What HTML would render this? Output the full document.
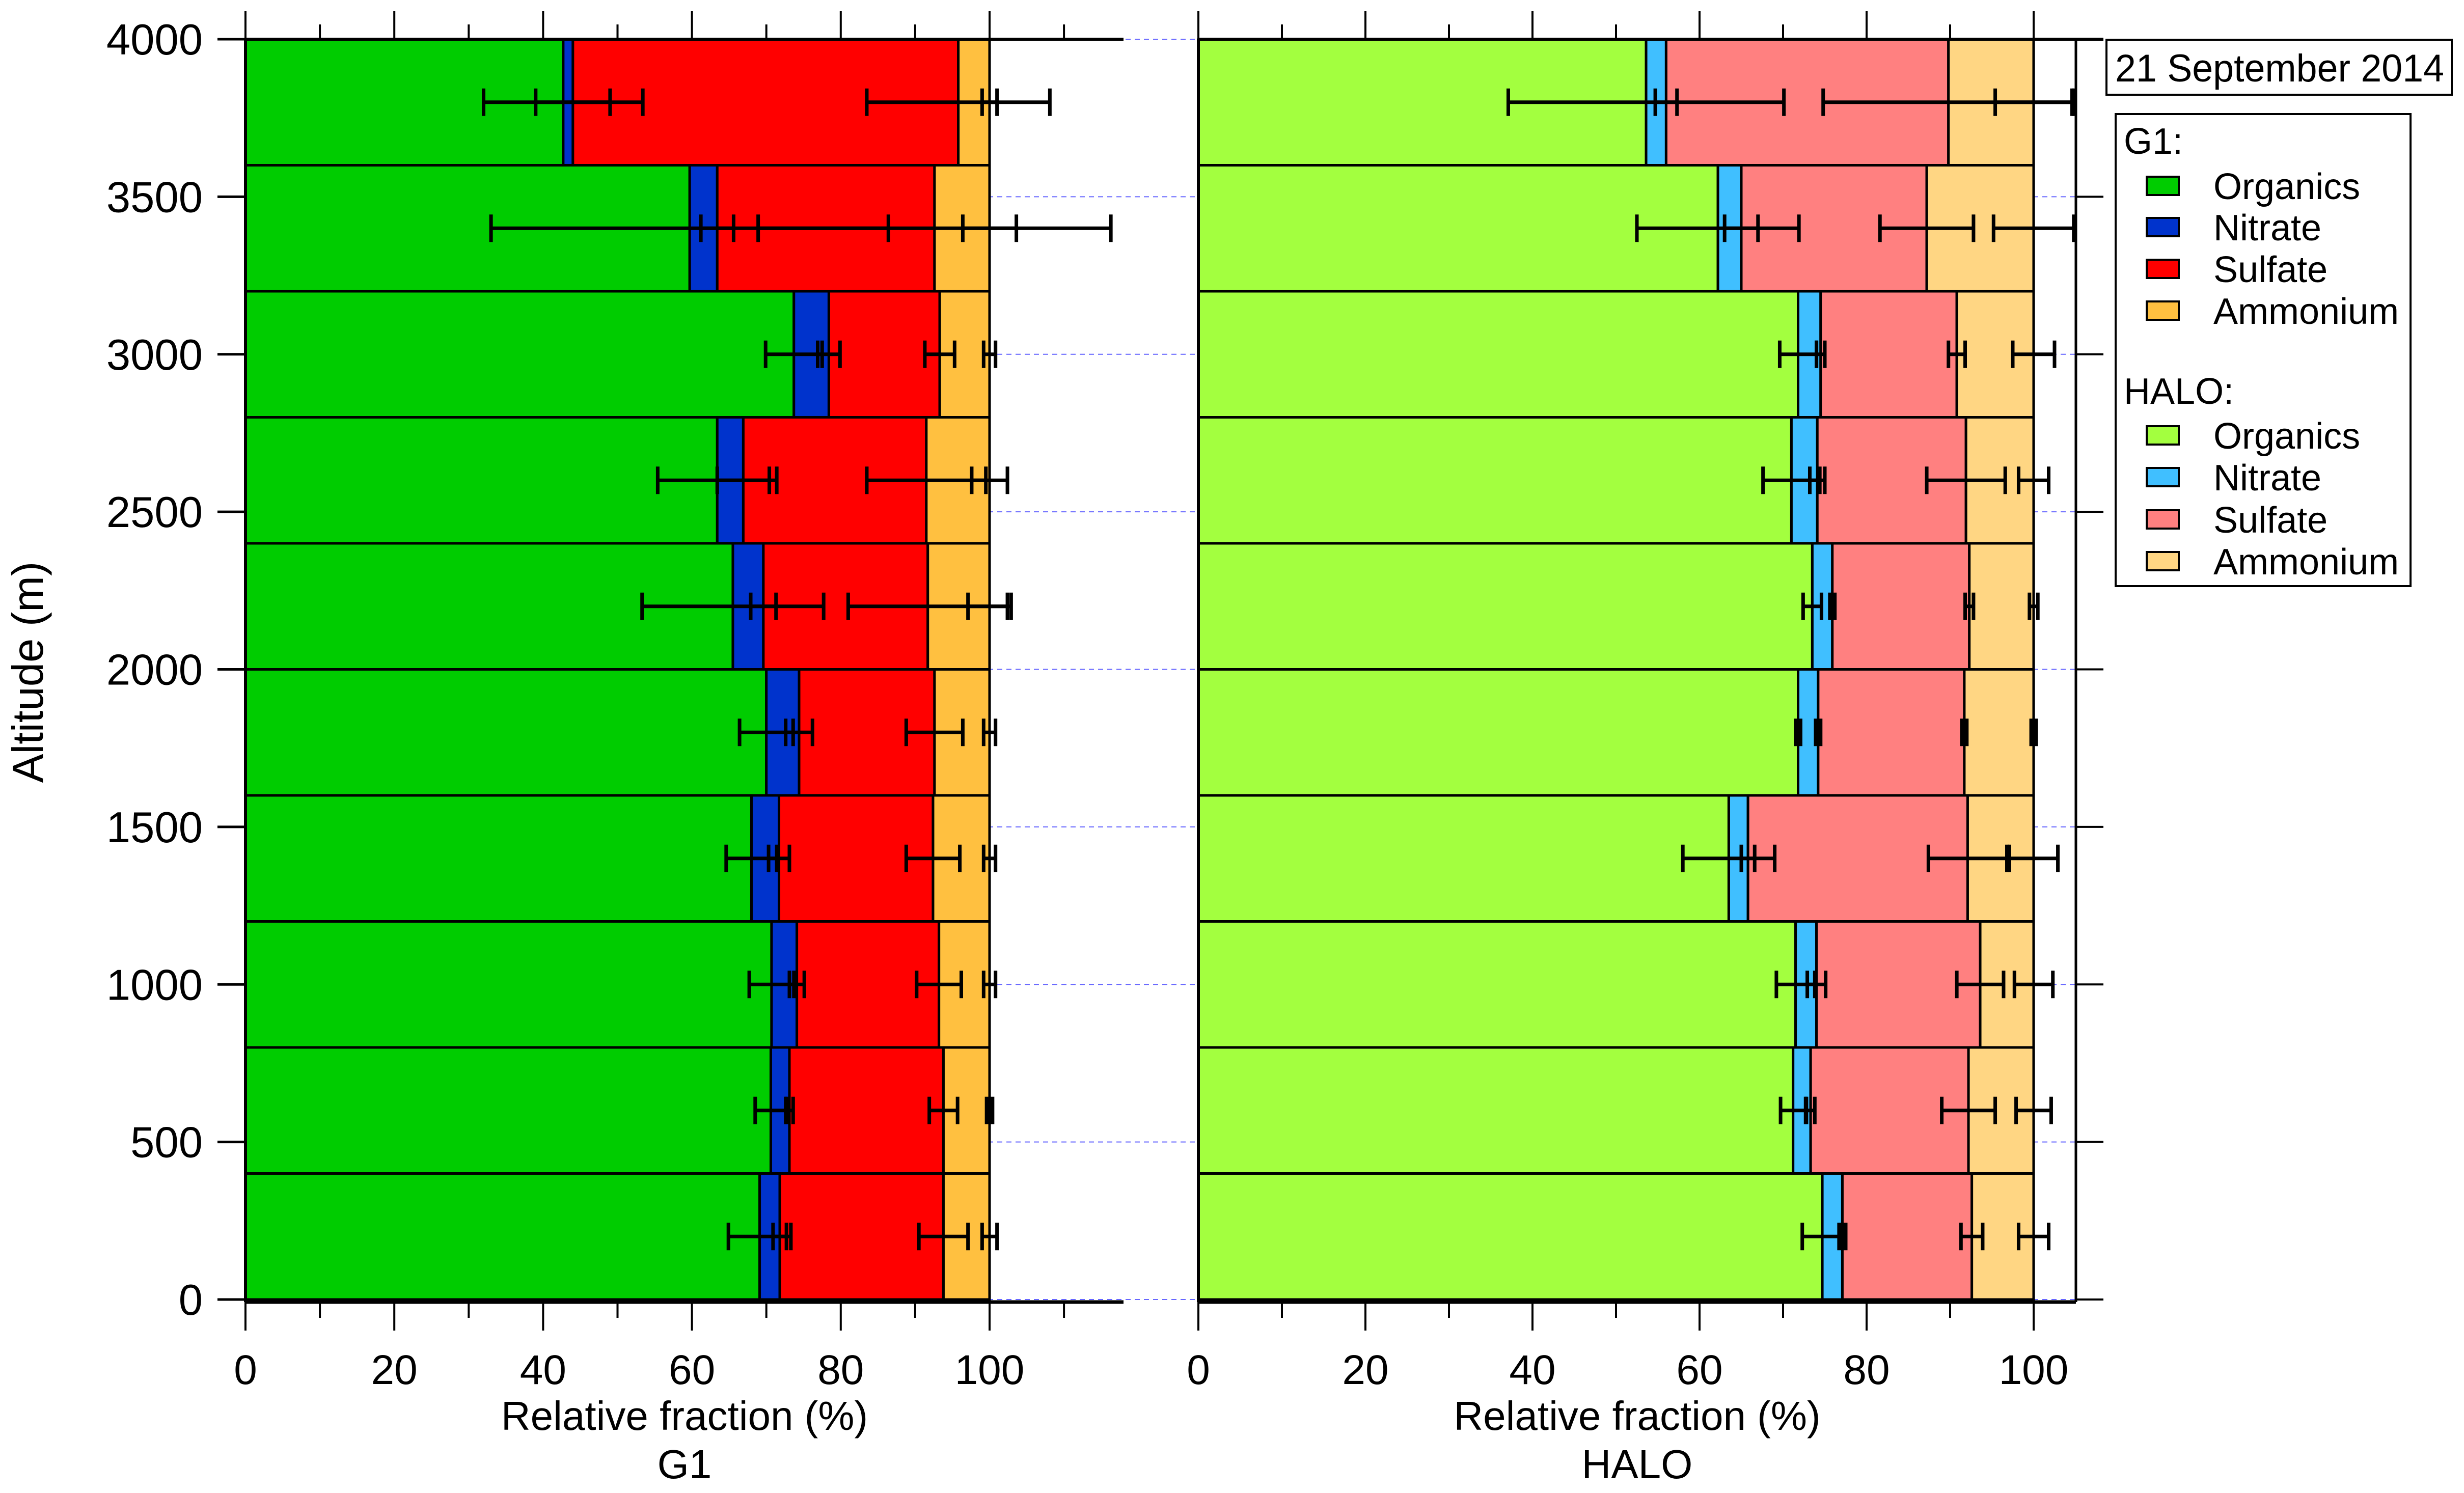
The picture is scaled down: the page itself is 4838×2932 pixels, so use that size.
<!DOCTYPE html>
<html><head><meta charset="utf-8"><style>
html,body{margin:0;padding:0;background:#fff;}
svg{display:block;}
text{font-family:"Liberation Sans",sans-serif;fill:#000;}
</style></head><body>
<svg id="chart" xmlns="http://www.w3.org/2000/svg" width="4838" height="2932" viewBox="0 0 4838 2932">
<rect x="0" y="0" width="4838" height="2932" fill="#fff"/>
<g id="grid"></g>
<g id="g1"></g>
<g id="halo"></g>
<g id="axes"></g>
<text x="0" y="0" font-size="85" text-anchor="middle" transform="translate(84,1320) rotate(-90)">Altitude (m)</text>
<g>
<rect x="4136" y="78" width="678" height="108" fill="#fff" stroke="#000" stroke-width="4"/>
<text x="4153" y="160" font-size="76" textLength="646" lengthAdjust="spacingAndGlyphs">21 September 2014</text>
</g>
<g id="legend">
<rect x="4154" y="224" width="579" height="927" fill="#fff" stroke="#000" stroke-width="4"/>
<text x="4170" y="302" font-size="72">G1:</text>
<text x="4170" y="793" font-size="72">HALO:</text>
</g>
</svg>
<script>
// altitude bins (bottom edges, m)
const altBins = [0,400,800,1200,1600,2000,2400,2800,3200,3600];
const species = ["Organics","Nitrate","Sulfate","Ammonium"];
// G1 component fractions (%), from bottom bin to top
const g1Org = [69.1,70.6,70.7,68.0,70.0,65.5,63.4,73.7,59.7,42.7];
const g1Nit = [2.7,2.5,3.4,3.7,4.4,4.1,3.5,4.7,3.7,1.3];
const g1Sul = [22.0,20.7,19.1,20.7,18.2,22.1,24.6,14.9,29.2,51.8];
const g1Amm = [6.2,6.2,6.8,7.6,7.4,8.3,8.5,6.7,7.4,4.2];
// G1 error half-widths (%)
const g1OrgErr = [4.2,2.1,3.0,3.4,3.6,12.2,8.0,3.8,26.7,10.7];
const g1NitErr = [0.9,0.5,1.0,1.4,1.8,1.7,3.5,1.5,2.2,5.0];
const g1SulErr = [3.3,1.9,3.0,3.6,3.8,10.7,8.0,2.0,23.7,12.3];
const g1AmmErr = [1.0,0.4,0.8,0.8,0.8,2.9,2.4,0.8,3.6,1.0];
// HALO component fractions (%)
const haOrg = [74.7,71.2,71.5,63.5,71.8,73.5,71.0,71.8,62.2,53.6];
const haNit = [2.4,2.1,2.5,2.3,2.4,2.4,3.1,2.7,2.8,2.4];
const haSul = [15.5,18.9,19.6,26.3,17.5,16.4,17.8,16.3,22.2,33.8];
const haAmm = [7.4,7.8,6.4,7.9,8.3,7.7,8.1,9.2,12.8,10.2];
// HALO error half-widths (%)
const haOrgErr = [2.4,1.5,2.3,5.5,0.3,1.1,3.4,2.2,9.7,16.5];
const haNitErr = [0.4,0.5,1.1,0.8,0.3,0.3,0.9,0.5,2.0,1.3];
const haSulErr = [1.3,3.2,2.8,4.7,0.3,0.5,4.7,1.0,5.6,15.0];
const haAmmErr = [1.8,2.1,2.3,2.9,0.3,0.5,1.8,2.5,4.8,4.6];
const binH = 400;
const xTicksMajor = [0,20,40,60,80,100];
const yTicks = [0,500,1000,1500,2000,2500,3000,3500,4000];

const NS="http://www.w3.org/2000/svg";
function el(tag, attrs, parent){const e=document.createElementNS(NS,tag);for(const k in attrs)e.setAttribute(k,attrs[k]);parent.appendChild(e);return e;}
const yScale = v => 2552 - v*(2552-77)/4000;
const panels = [
 {id:"g1", x0:482, x100:1943, xEnd:118, name:"g1", title:"G1",
  cols:["#00CC00","#0033CC","#FF0000","#FFC040"], vals:[g1Org,g1Nit,g1Sul,g1Amm], errs:[g1OrgErr,g1NitErr,g1SulErr,g1AmmErr]},
 {id:"halo", x0:2353, x100:3993, xEnd:105.06, name:"halo", title:"HALO",
  cols:["#A3FF3F","#40BFFF","#FF8080","#FFD683"], vals:[haOrg,haNit,haSul,haAmm], errs:[haOrgErr,haNitErr,haSulErr,haAmmErr]}
];
const grid=document.getElementById("grid");
yTicks.forEach(t=>{
  const l=el("line",{x1:482,x2:4076,y1:yScale(t),y2:yScale(t),stroke:"#6666ff","stroke-width":2,"stroke-dasharray":"10,8"},grid);
  
  
});
const axes=document.getElementById("axes");
panels.forEach(p=>{
  const xs = v => p.x0 + v*(p.x100-p.x0)/100;
  const g=document.getElementById(p.id);
  altBins.forEach((b,i)=>{
    let cum=0;
    const yT=yScale(b+binH), yB=yScale(b);
    const ends=[];
    p.vals.forEach((arr,k)=>{
      const r=el("rect",{x:xs(cum),y:yT,width:xs(cum+arr[i])-xs(cum),height:yB-yT,fill:p.cols[k],stroke:"#000","stroke-width":5},g);
      
      
      cum+=arr[i]; ends.push(cum);
    });
    const yc=(yT+yB)/2;
    p.errs.forEach((arr,k)=>{
      const c=(k===3)?100:ends[k];
      const eg=el("g",{stroke:"#000","stroke-width":7},g);
      
      
      el("line",{x1:xs(c-arr[i]),x2:xs(c+arr[i]),y1:yc,y2:yc},eg);
      el("line",{x1:xs(c-arr[i]),x2:xs(c-arr[i]),y1:yc-27,y2:yc+27},eg);
      el("line",{x1:xs(c+arr[i]),x2:xs(c+arr[i]),y1:yc-27,y2:yc+27},eg);
    });
  });
  const xe=xs(p.xEnd);
  const topExt = p.id==="halo"?4130:xe;
  el("line",{x1:p.x0,x2:topExt,y1:77,y2:77,stroke:"#000","stroke-width":6},axes);
  el("line",{x1:p.x0,x2:xe,y1:2557,y2:2557,stroke:"#000","stroke-width":7},axes);
  el("line",{x1:p.x0,x2:p.x0,y1:77,y2:2557,stroke:"#000","stroke-width":6},axes);
  if(p.id==="halo"){
    el("line",{x1:xe,x2:xe,y1:77,y2:2557,stroke:"#000","stroke-width":5},axes);
    yTicks.forEach(t=>el("line",{x1:xe,x2:4130,y1:yScale(t),y2:yScale(t),stroke:"#000","stroke-width":4},axes));
  }
  for(let v=0; v<=p.xEnd; v+=10){
    const major=v%20===0;
    el("line",{x1:xs(v),x2:xs(v),y1:77,y2:major?22:48,stroke:"#000","stroke-width":4},axes);
    el("line",{x1:xs(v),x2:xs(v),y1:2557,y2:major?2613:2588,stroke:"#000","stroke-width":4},axes);
  }
  xTicksMajor.forEach(v=>{
    const t=el("text",{x:xs(v),y:2718,"font-size":82,"text-anchor":"middle"},axes);
    t.textContent=v;
    
    
  });
  const cx=(p.x0+xe)/2;
  const t1=el("text",{x:cx,y:2808,"font-size":80,"text-anchor":"middle"},axes);
  t1.textContent="Relative fraction (%)";
  
  
  const t2=el("text",{x:cx,y:2903,"font-size":80,"text-anchor":"middle"},axes);
  t2.textContent=p.title;
  
  
});
yTicks.forEach(t=>{
  el("line",{x1:427,x2:482,y1:yScale(t),y2:yScale(t),stroke:"#000","stroke-width":5},axes);
  const tx=el("text",{x:398,y:yScale(t)+30,"font-size":85,"text-anchor":"end"},axes);
  tx.textContent=t;
  
  
});
const lg=document.getElementById("legend");
const legRows=[[365,"#00CC00","Organics"],[446,"#0033CC","Nitrate"],[528,"#FF0000","Sulfate"],[610,"#FFC040","Ammonium"],
 [855,"#A3FF3F","Organics"],[937,"#40BFFF","Nitrate"],[1020,"#FF8080","Sulfate"],[1102,"#FFD683","Ammonium"]];
legRows.forEach(r=>{
  const e=el("g",{},lg);
  
  
  el("rect",{x:4215,y:r[0]-18,width:63,height:36,fill:r[1],stroke:"#000","stroke-width":4},e);
  const t=el("text",{x:4346,y:r[0]+26,"font-size":72},e);
  t.textContent=r[2];
});
</script>
</body></html>
